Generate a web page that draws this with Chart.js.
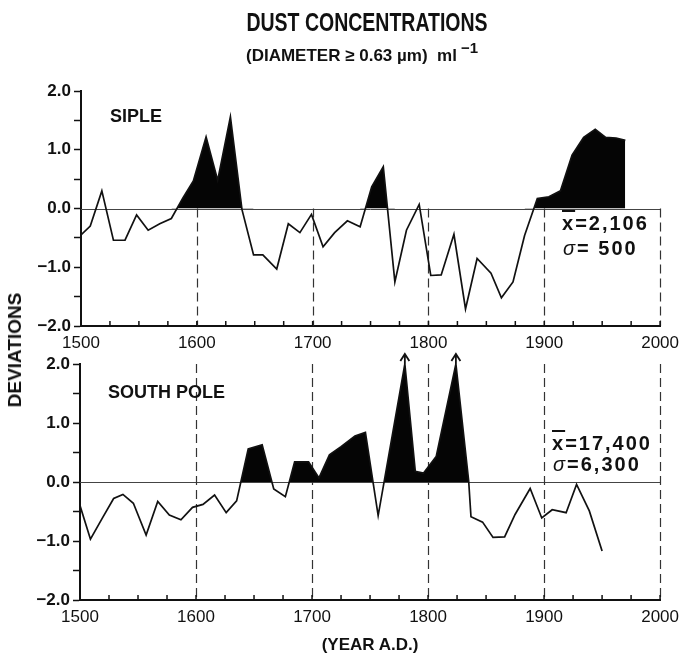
<!DOCTYPE html>
<html>
<head>
<meta charset="utf-8">
<script src="https://cdn.jsdelivr.net/npm/chart.js@4.4.1/dist/chart.umd.min.js"></script>
<style>
  body { margin: 0; background: #fff; width: 686px; height: 655px; position: relative; overflow: hidden;
         font-family: "Liberation Sans", Arial, sans-serif; color: #111; }
  canvas { position: absolute; left: 0; }
  .t { position: absolute; font-weight: bold; white-space: nowrap; z-index: 2; }
  .stat { letter-spacing: 2px; font-size: 20px; line-height: 20px; }
  .xbar { text-decoration: overline; text-decoration-thickness: 2px; }
  .sig { font-style: italic; font-weight: normal; }
</style>
</head>
<body>
<div class="t" style="left:367px; top:22px; font-size:25px; transform:translate(-50%,-50%) scaleX(0.78);">DUST CONCENTRATIONS</div>
<div class="t" style="left:362px; top:56px; font-size:17px; transform:translate(-50%,-50%);">(DIAMETER &ge; 0.63 &micro;m)&nbsp;&nbsp;ml<span style="position:relative; top:-8px; font-size:15px; margin-left:4px;">&minus;1</span></div>
<div class="t" style="left:15px; top:350px; font-size:19px; transform:translate(-50%,-50%) rotate(-90deg);">DEVIATIONS</div>
<div class="t" style="left:370px; top:645px; font-size:17px; transform:translate(-50%,-50%);">(YEAR A.D.)</div>

<div class="t" style="left:110px; top:106px; font-size:18px;">SIPLE</div>
<div class="t stat" style="left:562px; top:213px;"><span class="xbar">x</span>=2,106</div>
<div class="t stat" style="left:563px; top:238px;"><span class="sig">&sigma;</span>= 500</div>

<div class="t" style="left:108px; top:382px; font-size:18px;">SOUTH POLE</div>
<div class="t stat" style="left:552px; top:433px;"><span class="xbar">x</span>=17,400</div>
<div class="t stat" style="left:553px; top:454px;"><span class="sig">&sigma;</span>=6,300</div>

<canvas id="siple" width="686" height="360" style="top:0; width:686px; height:360px;"></canvas>
<canvas id="pole" width="686" height="315" style="top:340px; width:686px; height:315px;"></canvas>

<script>
// Siple Station record (standardised deviations)
const sipleYears = [1500, 1508, 1518, 1528, 1538, 1548, 1558, 1568, 1578, 1588, 1597, 1608, 1618, 1629,
  1639, 1649, 1657, 1669, 1679, 1689, 1699, 1709, 1719, 1730, 1741, 1751, 1761, 1771, 1781, 1792, 1802,
  1811, 1822, 1832, 1842, 1854, 1863, 1873, 1883, 1894, 1904, 1914, 1924, 1934, 1944, 1953, 1962, 1970];
const sipleDev = [-0.45, -0.30, 0.30, -0.54, -0.54, -0.11, -0.37, -0.26, -0.17, 0.18, 0.47, 1.22, 0.48, 1.56,
  -0.02, -0.79, -0.79, -1.03, -0.26, -0.41, -0.10, -0.65, -0.41, -0.21, -0.31, 0.37, 0.71, -1.25, -0.37, 0.07, -1.14,
  -1.13, -0.44, -1.71, -0.85, -1.10, -1.52, -1.25, -0.46, 0.17, 0.20, 0.30, 0.91, 1.21, 1.35, 1.21, 1.20, 1.16];
// high-dust episodes that are blacked in
const sipleShaded = [[1578, 1649], [1741, 1771], [1883, 1970]];

// South Pole record (standardised deviations)
const poleYears = [1500, 1509, 1519, 1529, 1537, 1546, 1557, 1567, 1577, 1587, 1597, 1606, 1616, 1626, 1635,
  1645, 1657, 1667, 1677, 1685, 1697, 1706, 1715, 1725, 1737, 1746, 1757, 1780, 1789, 1796, 1807, 1824, 1835,
  1837, 1847, 1856, 1866, 1875, 1888, 1898, 1907, 1919, 1928, 1939, 1950];
const poleDev = [-0.40, -0.97, -0.62, -0.28, -0.21, -0.36, -0.90, -0.33, -0.56, -0.64, -0.43, -0.38, -0.22, -0.52, -0.32,
  0.56, 0.63, -0.12, -0.25, 0.34, 0.34, 0.07, 0.46, 0.60, 0.78, 0.84, -0.57, 2.00, 0.18, 0.15, 0.43, 2.00, 0.02,
  -0.59, -0.68, -0.94, -0.93, -0.55, -0.11, -0.61, -0.47, -0.52, -0.04, -0.49, -1.17];
const poleShaded = [[1635, 1667], [1677, 1757], [1757, 1837]];

const centuryLines = [1600, 1700, 1800, 1900, 2000];
const yLabelValues = [-2, -1, 0, 1, 2];
const minorTickStep = 25;

const FONT = '"Liberation Sans", Arial, sans-serif';

// zero line, dashed century markers, inward year ticks and off-scale arrows
const panelDecor = {
  id: 'panelDecor',
  beforeDatasetsDraw(chart, args, opts) {
    const { ctx, scales: { x, y } } = chart;
    ctx.save();
    ctx.strokeStyle = '#444';
    ctx.lineWidth = 1;
    ctx.beginPath();
    ctx.moveTo(x.getPixelForValue(1500), Math.round(y.getPixelForValue(0)) + 0.5);
    ctx.lineTo(x.getPixelForValue(2000), Math.round(y.getPixelForValue(0)) + 0.5);
    ctx.stroke();

    ctx.strokeStyle = '#333';
    ctx.lineWidth = 1.2;
    ctx.setLineDash([9, 5]);
    centuryLines.forEach(yr => {
      const px = Math.round(x.getPixelForValue(yr)) + 0.5;
      ctx.beginPath();
      ctx.moveTo(px, y.getPixelForValue(opts.dashTop));
      ctx.lineTo(px, y.getPixelForValue(-2));
      ctx.stroke();
    });
    ctx.restore();
  },
  afterDraw(chart) {
    const { ctx, scales: { x, y } } = chart;
    ctx.save();
    ctx.strokeStyle = '#111';
    ctx.lineWidth = 1.5;
    const base = y.getPixelForValue(-2);
    for (let yr = 1500 + minorTickStep; yr <= 2000; yr += minorTickStep) {
      const px = x.getPixelForValue(yr);
      ctx.beginPath();
      ctx.moveTo(px, base);
      ctx.lineTo(px, base - 5);
      ctx.stroke();
    }
    // open arrowheads where the series runs off the top of the scale
    const pts = chart.data.datasets[0].data;
    ctx.lineWidth = 1.8;
    pts.forEach(p => {
      if (p.y < 2) return;
      const px = x.getPixelForValue(p.x);
      const py = y.getPixelForValue(2);
      ctx.beginPath();
      ctx.moveTo(px, py);
      ctx.lineTo(px, py - 9);
      ctx.moveTo(px - 4.5, py - 3);
      ctx.lineTo(px, py - 10);
      ctx.lineTo(px + 4.5, py - 3);
      ctx.stroke();
    });
    ctx.restore();
  }
};

function makePanel(id, years, values, shaded, pad, axisWidth, dashTop) {
  const series = years.map((yr, i) => ({ x: yr, y: values[i] }));
  // same points, kept only inside the shaded episodes (gaps elsewhere)
  const shadeSeries = years.map((yr, i) => ({
    x: yr,
    y: shaded.some(([a, b]) => yr >= a && yr <= b) ? values[i] : null
  }));
  return new Chart(document.getElementById(id), {
    type: 'line',
    data: {
      datasets: [{
        data: series,
        borderColor: '#111',
        borderWidth: 1.7,
        pointRadius: 0,
        tension: 0,
        fill: false
      }, {
        data: shadeSeries,
        borderWidth: 0,
        borderColor: 'rgba(0,0,0,0)',
        pointRadius: 0,
        tension: 0,
        spanGaps: false,
        fill: { target: { value: 0 }, above: '#050505', below: 'rgba(0,0,0,0)' }
      }]
    },
    options: {
      responsive: false,
      animation: false,
      events: [],
      layout: { padding: pad },
      plugins: {
        legend: { display: false },
        tooltip: { enabled: false },
        panelDecor: { dashTop: dashTop }
      },
      scales: {
        x: {
          type: 'linear',
          min: 1500,
          max: 2000,
          afterFit(s) { s.height = 30; },
          ticks: { stepSize: 100, padding: 7, color: '#111', font: { family: FONT, size: 17 },
                   callback: v => String(v) },
          grid: { drawOnChartArea: false, drawTicks: false },
          border: { width: 2, color: '#111' }
        },
        y: {
          min: -2,
          max: 2,
          afterFit(s) { s.width = axisWidth; },
          ticks: {
            stepSize: 0.5, padding: 3, color: '#111',
            font: { family: FONT, size: 17, weight: 'bold' },
            callback: v => yLabelValues.includes(v) ? v.toFixed(1).replace('-', '\u2212') : ''
          },
          grid: { drawOnChartArea: false, tickLength: 7, tickColor: '#111', tickWidth: 1.5 },
          border: { width: 2, color: '#111' }
        }
      }
    },
    plugins: [panelDecor]
  });
}

makePanel('siple', sipleYears, sipleDev, sipleShaded, { top: 91, left: 0, right: 25, bottom: 4 }, 81, 0);
makePanel('pole', poleYears, poleDev, poleShaded, { top: 24, left: 0, right: 25, bottom: 25 }, 80, 2);
</script>
</body>
</html>
